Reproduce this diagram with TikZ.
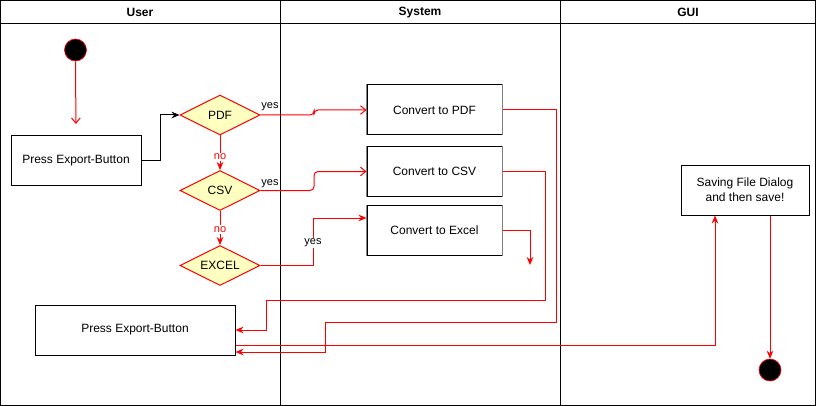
\documentclass[tikz,border=0pt]{standalone}
\usepackage{fontspec}
\setmainfont{Liberation Sans}
\usetikzlibrary{arrows.meta,shapes.geometric}
\definecolor{flowred}{HTML}{FF0000}
\definecolor{decfill}{HTML}{FFFFC0}
\begin{document}
\begin{tikzpicture}[x=0.75pt,y=-0.75pt,line width=0.75pt,
  font=\fontsize{9}{11}\selectfont,
  lanehead/.style={font=\fontsize{9}{11}\selectfont\bfseries},
  actbox/.style={draw=black,fill=white,inner sep=0pt,align=center,
    minimum height=37.5pt},
  convbox/.style={actbox,minimum width=101.25pt},
  decision/.style={diamond,aspect=2,draw=flowred,fill=decfill,inner sep=0pt,
    minimum width=60pt,minimum height=30pt},
  startend/.style={circle,fill=black,draw=flowred,line width=0.5pt,
    minimum size=16.5pt,inner sep=0pt},
  lbl/.style={font=\fontsize{8.25}{10}\selectfont,inner sep=1pt},
  nolbl/.style={lbl,text=flowred,fill=white},
  flow/.style={draw=flowred},
  filled/.style={-{Stealth[length=6pt,width=5pt]}},
  openhead/.style={-{Straight Barb[length=4pt,width=6.5pt]}}]

\useasboundingbox (0,0) rectangle (816,406);

% swimlanes
\draw (0.5,0.5) rectangle (815,405);
\draw (0.5,24) -- (815,24);
\draw (280,0.5) -- (280,405);
\draw (560,0.5) -- (560,405);
\node[lanehead] (hUser) at (140,12.5) {User};
\node[lanehead] (hSystem) at (420,12.5) {System};
\node[lanehead] (hGui) at (688,12.5) {GUI};

% activities
\node[startend] (start) at (75.5,50) {};
\node[actbox,minimum width=97.5pt] (press1) at (76,160.5) {Press Export-Button};
\node[decision] (pdf) at (220,115) {PDF};
\node[decision] (csv) at (220,190.5) {CSV};
\node[decision] (excel) at (220,265.5) {EXCEL};
\node[convbox] (cpdf) at (434.5,110) {Convert to PDF};
\node[convbox] (ccsv) at (434.5,171.5) {Convert to CSV};
\node[convbox] (cexcel) at (434.5,230) {Convert to Excel};
\node[actbox,minimum width=150pt] (press2) at (135,330) {Press Export-Button};
\node[actbox,minimum width=96pt] (gui) at (745,190) {Saving File Dialog\\and then save!};
\node[startend] (end) at (770,370) {};

% side edges of the conversion boxes
\foreach \n in {cpdf,ccsv,cexcel}{
  \draw[gray,line width=1.1pt] (\n.north west) -- (\n.south west)
    (\n.north east) -- (\n.south east);
}

% connectors
\draw[flow,openhead,shorten >=8.25pt] (start.south) -- (press1.north);
\draw[filled] (press1.east) -- ++(19,0) |- (pdf.west);

\draw[flow,filled] (pdf.south) -- (csv.north)
  node[nolbl,pos=0.62] (no1) {no};
\draw[flow,filled] (csv.south) -- (excel.north)
  node[nolbl,pos=0.54] (no2) {no};

\draw[flow,openhead,rounded corners=3pt] (pdf.east) -- (314,115) -- (314,110) -- (cpdf.west);
\node[lbl] (yes1) at (270,107) {yes};
\draw[flow,openhead,rounded corners=3pt] (csv.east) -- (314,190.5) -- (314,171.5) -- (ccsv.west);
\node[lbl] (yes2) at (270,183.5) {yes};
\draw[flow,filled] (excel.east) -- (313,265.5) |- ([yshift=9pt]cexcel.west);
\node[lbl,fill=white] (yes3) at (313,243) {yes};

\coordinate (xlend) at (530,265);
\draw[flow,filled] (cexcel.east) -| (xlend);
\draw[flow,filled] (ccsv.east) -| (545,300) -| (266,330) -- (press2.east);
\draw[flow,filled] (cpdf.east) -| (556,322) -| (325,352) -- ([yshift=-16.5pt]press2.east);
\draw[flow,filled] ([yshift=-11.25pt]press2.east) -| ([xshift=-22.5pt]gui.south);
\draw[flow,filled] ([xshift=18.75pt]gui.south) -- (end.north);
\end{tikzpicture}
\end{document}
